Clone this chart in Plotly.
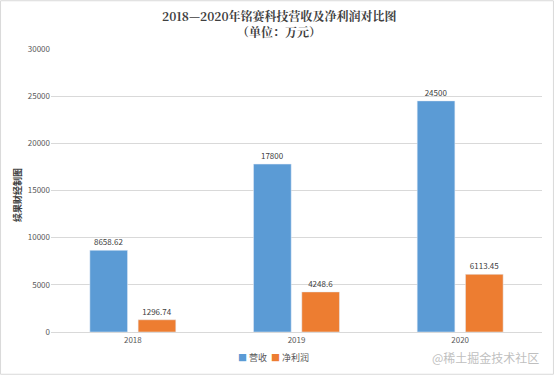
import plotly.graph_objects as go

years = ["2018", "2019", "2020"]
revenue = [8658.62, 17800, 24500]
profit = [1296.74, 4248.6, 6113.45]
revenue_labels = ["8658.62", "17800", "24500"]
profit_labels = ["1296.74", "4248.6", "6113.45"]
y_ticks = [0, 5000, 10000, 15000, 20000, 25000, 30000]
y_tick_text = [str(v) for v in y_ticks]

W, H = 554, 375
x0p, x1p = 51, 542
y_top, y_bot = 49, 332

fig = go.Figure()
fig.add_trace(go.Bar(x=years, y=revenue, name="营收", marker_color="#5B9BD5",
                     text=revenue_labels, textposition="outside",
                     textfont=dict(size=8, color="#404040"), cliponaxis=False))
fig.add_trace(go.Bar(x=years, y=profit, name="净利润", marker_color="#ED7D31",
                     text=profit_labels, textposition="outside",
                     textfont=dict(size=8, color="#404040"), cliponaxis=False))

fig.update_layout(
    width=W, height=H,
    margin=dict(l=0, r=0, t=0, b=0),
    paper_bgcolor="white", plot_bgcolor="white",
    font=dict(family="Noto Sans CJK SC, sans-serif", color="#595959"),
    barmode="group", bargap=0.41, bargroupgap=0.22,
    showlegend=False,
    xaxis=dict(domain=[x0p / W, x1p / W], showgrid=False, showline=True,
               linecolor="#D9D9D9", linewidth=1, automargin=False,
               tickfont=dict(size=8, color="#595959"), ticks=""),
    yaxis=dict(domain=[1 - y_bot / H, 1 - y_top / H], range=[0, 30000],
               tickvals=y_ticks, ticktext=y_tick_text, automargin=False,
               showgrid=True, gridcolor="#D9D9D9", gridwidth=1, zeroline=False,
               tickfont=dict(size=8, color="#595959")),
)

fig.add_shape(type="rect", xref="paper", yref="paper", x0=0.001, x1=0.999, y0=0.002, y1=0.998,
              line=dict(color="#D9D9D9", width=1))

# title
fig.add_annotation(text="<b>2018—2020年铭赛科技营收及净利润对比图</b>", xref="paper", yref="paper",
                   x=279 / W, y=1 - 16 / H, xanchor="center", yanchor="middle", showarrow=False,
                   font=dict(size=12, color="#404040", family="Noto Serif CJK SC, Noto Sans CJK SC, serif"))
fig.add_annotation(text="<b>（单位：万元）</b>", xref="paper", yref="paper",
                   x=279 / W, y=1 - 31 / H, xanchor="center", yanchor="middle", showarrow=False,
                   font=dict(size=12, color="#404040", family="Noto Serif CJK SC, Noto Sans CJK SC, serif"))
# y-axis title
fig.add_annotation(text="<b>续果财经制图</b>", xref="paper", yref="paper",
                   x=17 / W, y=1 - 195 / H, xanchor="center", yanchor="middle", showarrow=False,
                   textangle=-90, font=dict(size=9, color="#404040"))
# legend
fig.add_annotation(text="<span style='color:#5B9BD5'>■</span> 营收  <span style='color:#ED7D31'>■</span> 净利润",
                   xref="paper", yref="paper", x=273 / W, y=1 - 357 / H,
                   xanchor="center", yanchor="middle", showarrow=False,
                   font=dict(size=9, color="#595959"))
# watermark
fig.add_annotation(text="@稀土掘金技术社区", xref="paper", yref="paper",
                   x=541 / W, y=1 - 357 / H, xanchor="right", yanchor="middle",
                   showarrow=False, font=dict(size=12, color="#BFBFBF"))

fig.write_html("out.html", config={"displayModeBar": False},
               post_script="document.body.style.margin='0';")
